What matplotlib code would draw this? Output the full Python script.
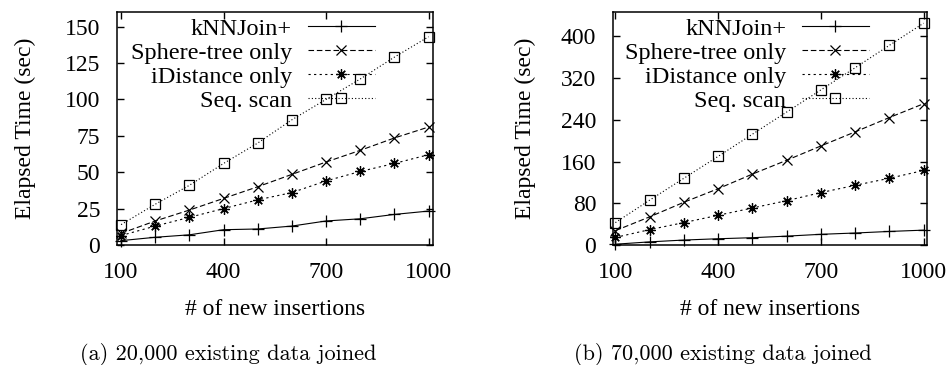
import matplotlib
matplotlib.use("Agg")
import matplotlib.pyplot as plt

x = [100, 200, 300, 400, 500, 600, 700, 800, 900, 1000]

# (a) 20,000 existing data joined
a_knn = [3, 5.3, 7, 10.5, 11, 13, 16.5, 18, 21, 23.3]
a_sphere = [8, 16.5, 24, 32, 40, 48.5, 57, 65, 73.5, 81]
a_idist = [6.5, 13, 19, 25, 31, 36, 44, 50.5, 56, 62]
a_seq = [14, 28, 41, 56, 70, 86, 100, 114, 129, 143]

# (b) 70,000 existing data joined
b_knn = [1.5, 6, 9.5, 12, 14, 17, 20.5, 23, 26, 28.5]
b_sphere = [27.5, 54, 82, 108, 136, 162.5, 190, 217, 244.5, 271]
b_idist = [14.5, 29.5, 43, 57, 71, 85, 100.5, 114.5, 128, 143]
b_seq = [43, 86, 128, 170, 212.5, 255, 297.5, 340, 383, 425.5]

labels = ["kNNJoin+", "Sphere-tree only", "iDistance only", "Seq. scan"]
xticks = [100, 400, 700, 1000]
a_yticks = [0, 25, 50, 75, 100, 125, 150]
b_yticks = [0, 80, 160, 240, 320, 400]
captions = ["(a) 20,000 existing data joined", "(b) 70,000 existing data joined"]

plt.rcParams['font.family'] = ['Liberation Serif', 'DejaVu Serif']
FS = 17

fig = plt.figure(figsize=(9.53, 3.65), dpi=100)
axA = fig.add_axes([117/953, 1-245/365, 316/953, 233/365])
axB = fig.add_axes([613/953, 1-245/365, 314/953, 233/365])

styles = [
    dict(ls='-', marker='+', ms=8, dashes=()),
    dict(ls='--', marker='x', ms=6.5, dashes=(5, 2.5)),
    dict(ls='--', marker=(8, 2, 0), ms=7.5, dashes=(2, 3)),
    dict(ls=':', marker='s', ms=7, mfc='none', dashes=(1, 2)),
]

def draw(ax, series, yticks, ylim, xlim, ylab_x):
    for s, lab, st in zip(series, labels, styles):
        st = dict(st)
        d = st.pop('dashes')
        line, = ax.plot(x, s, color='black', lw=0.8, mew=0.9, label=lab,
                        clip_on=False, **st)
        if d:
            line.set_dashes(d)
    ax.set_xlim(*xlim)
    ax.set_ylim(*ylim)
    ax.set_xticks(xticks)
    ax.set_yticks(yticks)
    ax.tick_params(direction='in', top=True, right=True, length=5, width=1,
                   labelsize=FS)
    ax.tick_params(axis='y', pad=12)
    ax.tick_params(axis='x', pad=12)
    for sp in ax.spines.values():
        sp.set_linewidth(1.1)
    ax.set_xlabel("# of new insertions", fontsize=FS, labelpad=12)
    ax.set_ylabel("Elapsed Time (sec)", fontsize=FS)
    ax.yaxis.set_label_coords(ylab_x, 0.5)
    leg = ax.legend(loc='upper right', bbox_to_anchor=(0.815, 0.975),
                    frameon=False, markerfirst=False, fontsize=17.5,
                    handlelength=2.75, handletextpad=0.65, labelspacing=0.08,
                    borderpad=0, borderaxespad=0)
    return leg

draw(axA, [a_knn, a_sphere, a_idist, a_seq], a_yticks, (0, 160), (88, 1013), -0.256)
draw(axB, [b_knn, b_sphere, b_idist, b_seq], b_yticks, (0, 447), (93, 1010), -0.245)

fig.text(228/953, 1-354/365, captions[0], family='cmr10', fontsize=16,
         ha='center', va='center')
fig.text(723/953, 1-354/365, captions[1], family='cmr10', fontsize=16,
         ha='center', va='center')

fig.savefig("out.png", dpi=100)
